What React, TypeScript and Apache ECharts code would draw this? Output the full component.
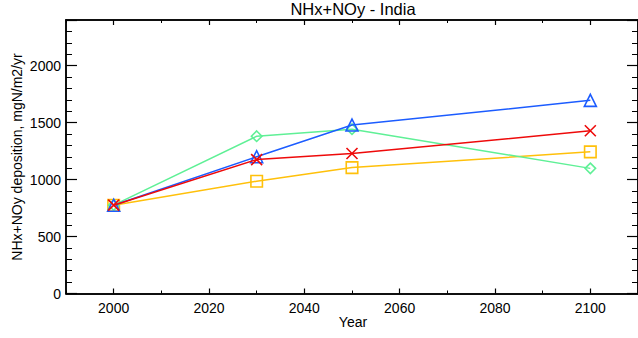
import React, { useEffect, useRef } from "react";
import * as echarts from "echarts";

const years = [2000, 2030, 2050, 2100];
const seriesYellow = [775, 985, 1105, 1243];
const seriesGreen = [775, 1380, 1442, 1098];
const seriesBlue = [775, 1200, 1478, 1695];
const seriesRed = [775, 1175, 1228, 1428];
const xMajorTicks = [2000, 2020, 2040, 2060, 2080, 2100];

const FONT = "Liberation Sans";

export default function App() {
  const ref = useRef<HTMLDivElement>(null);
  useEffect(() => {
    if (!ref.current) return;
    const chart = echarts.init(ref.current, null, { renderer: "svg" });
    const gridL = 66;
    const gridW = 575;
    const gridT = 20;
    const gridH = 273.5;
    const black = "#000";
    const mk = (vals: number[]) => years.map((y, i) => [y, vals[i]]);
    const baseX = {
      type: "value",
      min: 1990,
      max: 2110,
      gridIndex: 0,
      splitLine: { show: false },
      axisLine: { show: true, onZero: false, lineStyle: { color: black, width: 1.5 } },
    };
    const baseY = {
      type: "value",
      min: 0,
      max: 2400,
      gridIndex: 0,
      splitLine: { show: false },
      axisLine: { show: true, onZero: false, lineStyle: { color: black, width: 1.5 } },
    };
    const X = "path://M0,0L10,10M10,0L0,10";
    const line = (name: string, vals: number[], color: string, symbol: string, size: number, z: number) => ({
      name,
      type: "line",
      data: mk(vals),
      symbol,
      symbolSize: size,
      showAllSymbol: true,
      z,
      lineStyle: { color, width: 1.5 },
      itemStyle: { color: "none", borderColor: color, borderWidth: 1.6 },
      emphasis: { disabled: true },
    });
    chart.setOption({
      animation: false,
      grid: [{ left: gridL, top: gridT, width: gridW, height: gridH }],
      xAxis: [
        {
          ...baseX,
          position: "bottom",
          interval: 10,
          axisTick: { show: true, inside: true, length: 3, lineStyle: { color: black, width: 1 } },
          axisLabel: { show: false },
        },
        {
          ...baseX,
          position: "bottom",
          interval: 10,
          axisTick: { show: true, inside: true, length: 5, customValues: xMajorTicks, lineStyle: { color: black, width: 1.2 } },
          axisLabel: {
            show: true,
            customValues: xMajorTicks,
            color: black,
            fontFamily: FONT,
            fontSize: 14,
            margin: 7,
            formatter: (v: number) => String(v),
          },
        },
        {
          ...baseX,
          position: "top",
          interval: 10,
          axisTick: { show: true, inside: true, length: 3, lineStyle: { color: black, width: 1 } },
          axisLabel: { show: false },
        },
        {
          ...baseX,
          position: "top",
          interval: 10,
          axisTick: { show: true, inside: true, length: 5, customValues: xMajorTicks, lineStyle: { color: black, width: 1.2 } },
          axisLabel: { show: false },
        },
      ],
      yAxis: [
        {
          ...baseY,
          position: "left",
          interval: 100,
          axisTick: { show: true, inside: true, length: 6, lineStyle: { color: black, width: 1 } },
          axisLabel: {
            show: true,
            color: black,
            fontFamily: FONT,
            fontSize: 14,
            margin: 5,
            showMaxLabel: false,
            formatter: (v: number) => (v % 500 === 0 ? String(v) : ""),
          },
        },
        {
          ...baseY,
          position: "left",
          interval: 500,
          axisTick: { show: true, inside: true, length: 11, lineStyle: { color: black, width: 1.2 } },
          axisLabel: { show: false },
        },
        {
          ...baseY,
          position: "right",
          interval: 100,
          axisTick: { show: true, inside: true, length: 6, lineStyle: { color: black, width: 1 } },
          axisLabel: { show: false },
        },
        {
          ...baseY,
          position: "right",
          interval: 500,
          axisTick: { show: true, inside: true, length: 11, lineStyle: { color: black, width: 1.2 } },
          axisLabel: { show: false },
        },
      ],
      series: [
        line("Yellow", seriesYellow, "#ffc00a", "rect", 11.5, 2),
        line("Green", seriesGreen, "#5ff096", "diamond", 10.5, 3),
        line("Blue", seriesBlue, "#1c5cff", "triangle", 12, 4),
        line("Red", seriesRed, "#ee0a0a", X, 11, 5),
      ],
      graphic: [
        {
          type: "text",
          x: 353,
          y: 9,
          style: {
            text: "NHx+NOy - India",
            font: `16.5px "${FONT}"`,
            fill: black,
            textAlign: "center",
            textVerticalAlign: "middle",
          },
        },
        {
          type: "text",
          x: 353,
          y: 322,
          style: {
            text: "Year",
            font: `14px "${FONT}"`,
            fill: black,
            textAlign: "center",
            textVerticalAlign: "middle",
          },
        },
        {
          type: "text",
          x: 17,
          y: 157,
          rotation: Math.PI / 2,
          style: {
            text: "NHx+NOy deposition, mgN/m2/yr",
            font: `14px "${FONT}"`,
            fill: black,
            textAlign: "center",
            textVerticalAlign: "middle",
          },
        },
      ],
    });
    return () => chart.dispose();
  }, []);
  return <div ref={ref} style={{ width: 638, height: 338, position: "absolute", left: 0, top: 0 }} />;
}
